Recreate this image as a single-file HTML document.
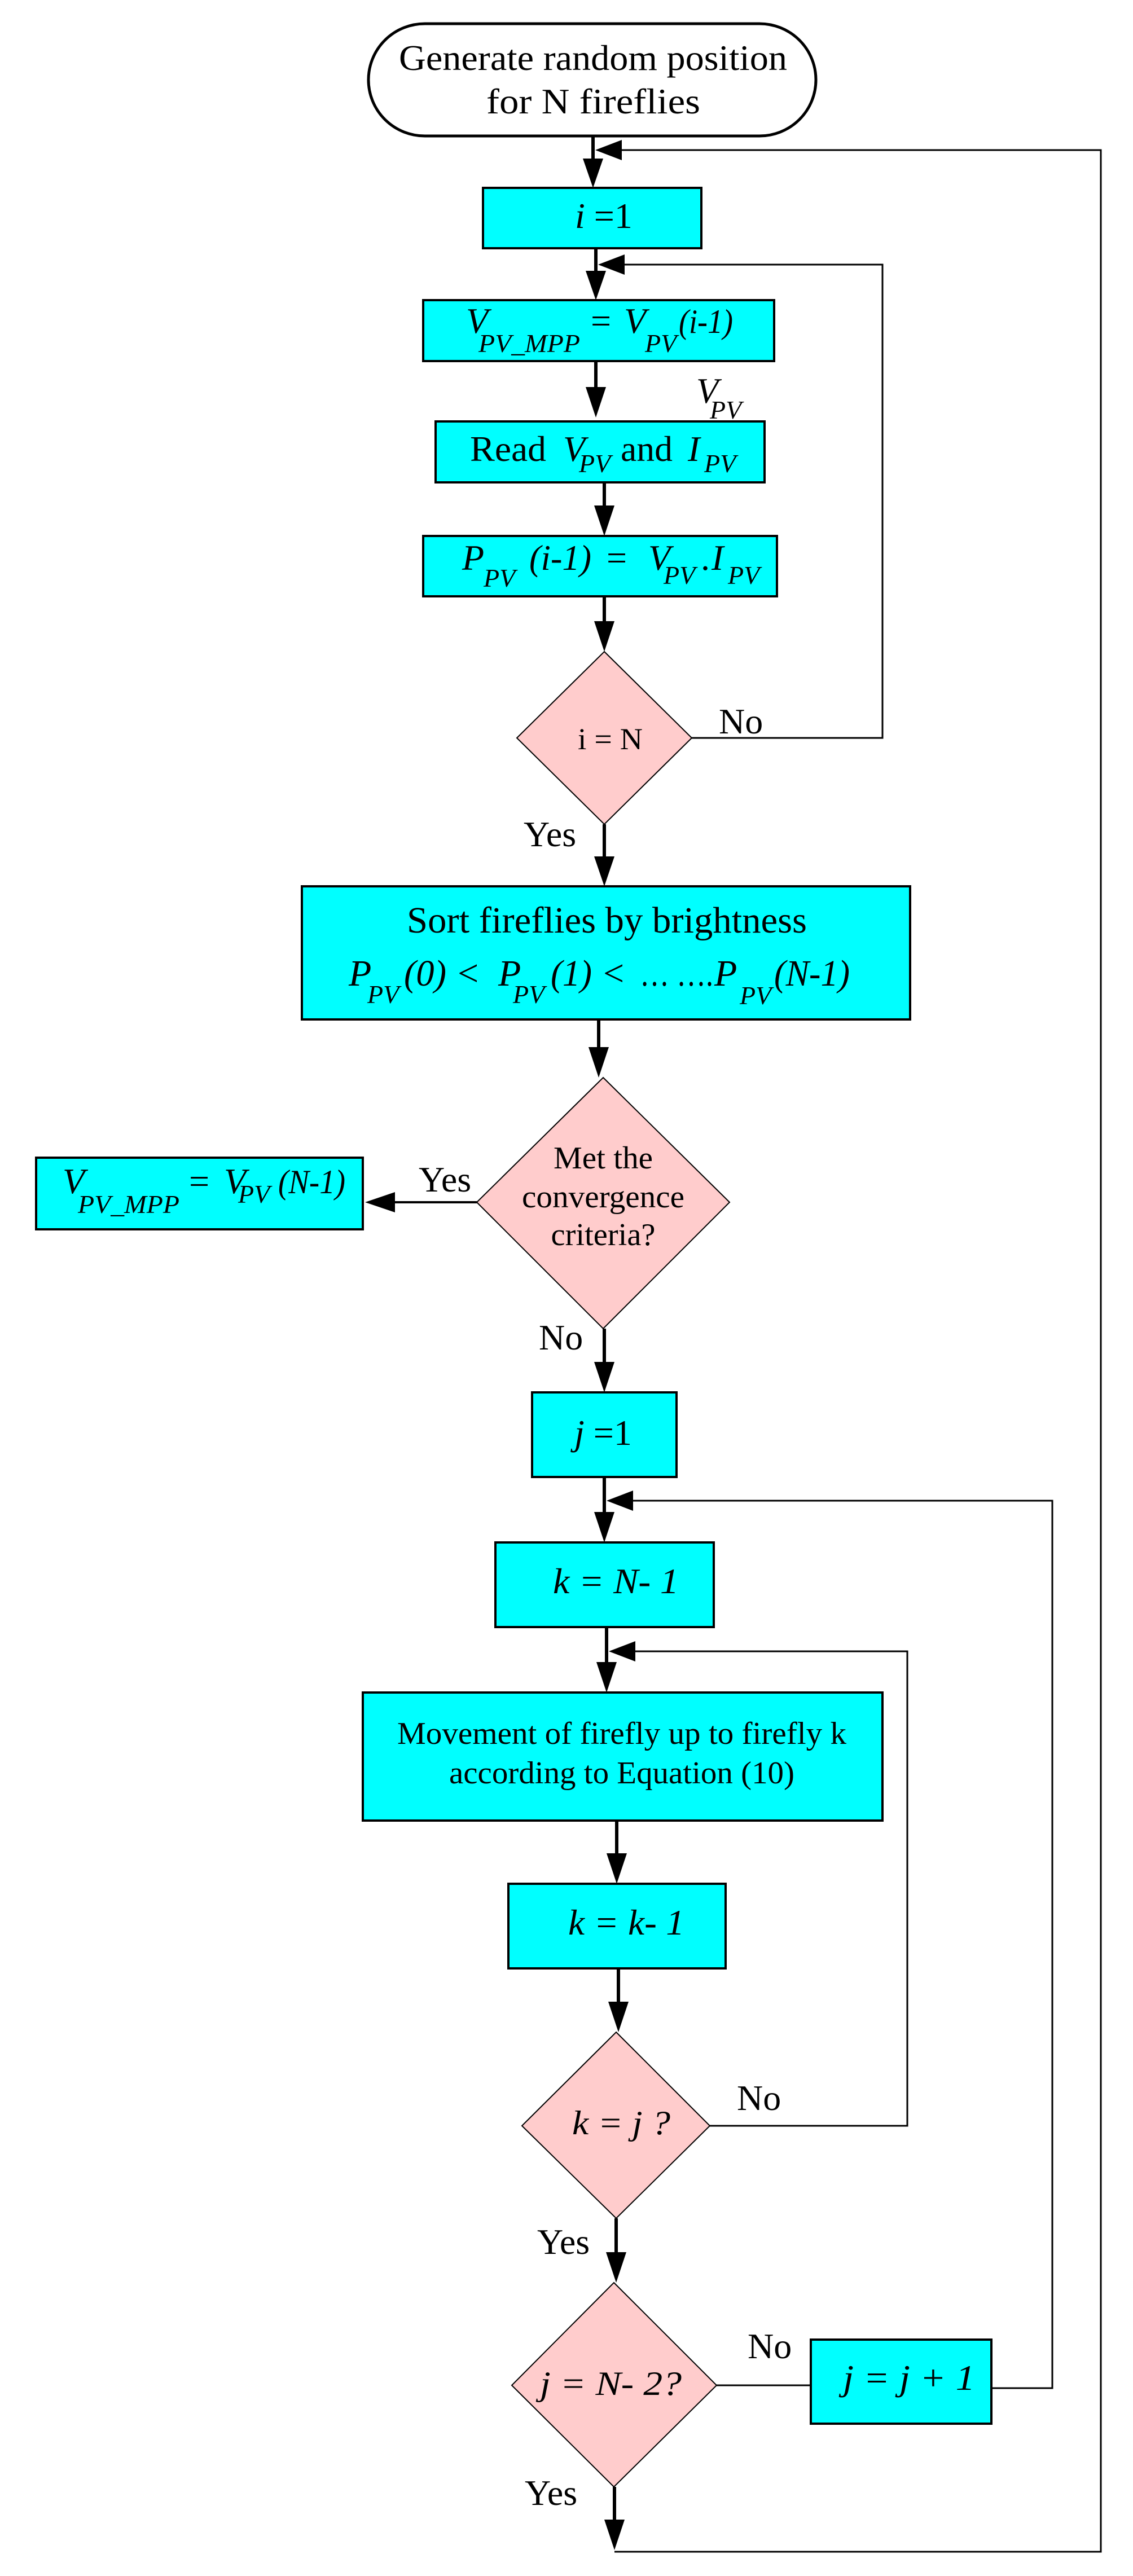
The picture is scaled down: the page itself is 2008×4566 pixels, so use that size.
<!DOCTYPE html>
<html><head><meta charset="utf-8"><style>
html,body{margin:0;padding:0;background:#fff;}
svg{display:block;}
text{font-family:"Liberation Serif","DejaVu Serif",serif;fill:#000;}
.i{font-style:italic;}
</style></head><body>
<svg width="2008" height="4566" viewBox="0 0 2008 4566" xmlns="http://www.w3.org/2000/svg">
<defs>
<style>
.box{fill:#00FFFF;stroke:#000;stroke-width:4;}
.dia{fill:#FFCCCC;stroke:#000;stroke-width:2;}
.ln{stroke:#000;stroke-width:3;fill:none;}
.th{stroke:#000;stroke-width:6;fill:none;}
</style>
</defs>

<!-- Terminal -->
<rect x="653" y="42" width="793" height="199" rx="100" ry="100" fill="#fff" stroke="#000" stroke-width="5"/>
<text x="707" y="124" font-size="64" textLength="688" lengthAdjust="spacingAndGlyphs">Generate random position</text>
<text x="862" y="201" font-size="64" textLength="379" lengthAdjust="spacingAndGlyphs">for  N fireflies</text>

<!-- arrow to i=1 -->
<line class="th" x1="1051" y1="241" x2="1051" y2="285"/>
<polygon points="1033,281 1069,281 1051,333"/>
<!-- outer feedback -->
<polyline class="ln" points="1089,4523 1951,4523 1951,266 1100,266"/>
<polygon points="1055,266 1102,248 1102,284"/>

<rect class="box" x="856" y="333" width="387" height="107"/>
<text x="1019" y="404" font-size="64"><tspan class="i">i</tspan> =1</text>

<line class="th" x1="1056" y1="440" x2="1056" y2="484"/>
<polygon points="1038,480 1074,480 1056,532"/>
<polyline class="ln" points="1226,1308 1564,1308 1564,469 1105,469"/>
<polygon points="1060,469 1107,451 1107,487"/>

<rect class="box" x="750" y="532" width="622" height="108"/>
<text class="i" x="826" y="590" font-size="64">V</text>
<text class="i" x="848" y="624" font-size="46" textLength="180" lengthAdjust="spacingAndGlyphs">PV_MPP</text>
<text x="1047" y="590" font-size="64">=</text>
<text class="i" x="1106" y="590" font-size="64">V</text>
<text class="i" x="1143" y="624" font-size="46">PV</text>
<text class="i" x="1203" y="590" font-size="60" textLength="96" lengthAdjust="spacingAndGlyphs">(i-1)</text>

<line class="th" x1="1056" y1="640" x2="1056" y2="690"/>
<polygon points="1038,686 1074,686 1056,740"/>
<text class="i" x="1234" y="714" font-size="64">V</text>
<text class="i" x="1258" y="742" font-size="46">PV</text>

<rect class="box" x="772" y="747" width="583" height="108"/>
<text x="833" y="817" font-size="64" textLength="135" lengthAdjust="spacingAndGlyphs">Read</text>
<text class="i" x="998" y="817" font-size="64">V</text>
<text class="i" x="1026" y="837" font-size="46">PV</text>
<text x="1100" y="817" font-size="64" textLength="92" lengthAdjust="spacingAndGlyphs">and</text>
<text class="i" x="1219" y="817" font-size="64">I</text>
<text class="i" x="1248" y="837" font-size="46">PV</text>

<line class="th" x1="1071" y1="855" x2="1071" y2="900"/>
<polygon points="1053,896 1089,896 1071,950"/>

<rect class="box" x="750" y="950" width="627" height="107"/>
<text class="i" x="819" y="1010" font-size="64">P</text>
<text class="i" x="857" y="1040" font-size="46">PV</text>
<text class="i" x="938" y="1010" font-size="64" textLength="110" lengthAdjust="spacingAndGlyphs">(i-1)</text>
<text x="1075" y="1010" font-size="64">=</text>
<text class="i" x="1149" y="1010" font-size="64">V</text>
<text class="i" x="1176" y="1035" font-size="46">PV</text>
<text x="1242" y="1010" font-size="64">.</text>
<text class="i" x="1261" y="1010" font-size="64">I</text>
<text class="i" x="1290" y="1035" font-size="46">PV</text>

<line class="th" x1="1071" y1="1057" x2="1071" y2="1105"/>
<polygon points="1053,1101 1089,1101 1071,1155"/>

<polygon class="dia" points="1071,1155 1226,1308 1071,1461 916,1308"/>
<text x="1024" y="1328" font-size="54" textLength="115" lengthAdjust="spacingAndGlyphs">i = N</text>
<text x="1274" y="1300" font-size="64">No</text>
<text x="928" y="1500" font-size="64">Yes</text>

<line class="th" x1="1071" y1="1461" x2="1071" y2="1522"/>
<polygon points="1053,1518 1089,1518 1071,1571"/>

<rect class="box" x="535" y="1571" width="1078" height="236"/>
<text x="721" y="1653" font-size="66" textLength="709" lengthAdjust="spacingAndGlyphs">Sort fireflies by brightness</text>
<text class="i" x="618" y="1747" font-size="66">P</text>
<text class="i" x="651" y="1778" font-size="46">PV</text>
<text class="i" x="716" y="1747" font-size="66" textLength="75" lengthAdjust="spacingAndGlyphs">(0)</text>
<text x="811" y="1747" font-size="66">&lt;</text>
<text class="i" x="883" y="1747" font-size="66">P</text>
<text class="i" x="909" y="1778" font-size="46">PV</text>
<text class="i" x="976" y="1747" font-size="66" textLength="73" lengthAdjust="spacingAndGlyphs">(1)</text>
<text x="1069" y="1747" font-size="66">&lt;</text>
<text x="1134" y="1747" font-size="66" textLength="130" lengthAdjust="spacingAndGlyphs">… ….</text>
<text class="i" x="1266" y="1747" font-size="66">P</text>
<text class="i" x="1311" y="1780" font-size="46">PV</text>
<text class="i" x="1372" y="1747" font-size="66" textLength="134" lengthAdjust="spacingAndGlyphs">(N-1)</text>

<line class="th" x1="1061" y1="1807" x2="1061" y2="1860"/>
<polygon points="1043,1856 1079,1856 1061,1910"/>

<polygon class="dia" points="1069,1910 1293,2131 1069,2355 845,2131"/>
<text x="1069" y="2071" font-size="56" text-anchor="middle" textLength="176" lengthAdjust="spacingAndGlyphs">Met the</text>
<text x="1069" y="2140" font-size="56" text-anchor="middle" textLength="288" lengthAdjust="spacingAndGlyphs">convergence</text>
<text x="1069" y="2207" font-size="56" text-anchor="middle" textLength="185" lengthAdjust="spacingAndGlyphs">criteria?</text>

<line class="th" x1="845" y1="2131" x2="690" y2="2131" style="stroke-width:4"/>
<polygon points="647,2131 700,2113 700,2149"/>
<text x="742" y="2112" font-size="64">Yes</text>

<rect class="box" x="64" y="2052" width="579" height="127"/>
<text class="i" x="111" y="2115" font-size="64">V</text>
<text class="i" x="138" y="2150" font-size="46" textLength="180" lengthAdjust="spacingAndGlyphs">PV_MPP</text>
<text x="335" y="2115" font-size="64">=</text>
<text class="i" x="397" y="2115" font-size="64">V</text>
<text class="i" x="422" y="2132" font-size="46">PV</text>
<text class="i" x="493" y="2115" font-size="60" textLength="119" lengthAdjust="spacingAndGlyphs">(N-1)</text>

<text x="955" y="2392" font-size="64">No</text>
<line class="th" x1="1071" y1="2355" x2="1071" y2="2418"/>
<polygon points="1053,2414 1089,2414 1071,2468"/>

<rect class="box" x="943" y="2468" width="256" height="150"/>
<text x="1018" y="2561" font-size="64"><tspan class="i">j</tspan> =1</text>

<line class="th" x1="1071" y1="2618" x2="1071" y2="2684"/>
<polygon points="1053,2680 1089,2680 1071,2734"/>
<polyline class="ln" points="1757,4233 1865,4233 1865,2660 1120,2660"/>
<polygon points="1075,2660 1122,2642 1122,2678"/>

<rect class="box" x="878" y="2734" width="387" height="150"/>
<text class="i" x="980" y="2824" font-size="64" textLength="223" lengthAdjust="spacingAndGlyphs">k = N- 1</text>

<line class="th" x1="1075" y1="2884" x2="1075" y2="2950"/>
<polygon points="1057,2946 1093,2946 1075,3000"/>
<polyline class="ln" points="1258,3768 1608,3768 1608,2927 1124,2927"/>
<polygon points="1079,2927 1126,2909 1126,2945"/>

<rect class="box" x="643" y="3000" width="921" height="227"/>
<text x="704" y="3091" font-size="56" textLength="796" lengthAdjust="spacingAndGlyphs">Movement of firefly up to firefly k</text>
<text x="796" y="3161" font-size="56" textLength="612" lengthAdjust="spacingAndGlyphs">according to Equation (10)</text>

<line class="th" x1="1093" y1="3227" x2="1093" y2="3289"/>
<polygon points="1075,3285 1111,3285 1093,3339"/>

<rect class="box" x="901" y="3339" width="385" height="150"/>
<text class="i" x="1007" y="3429" font-size="64" textLength="206" lengthAdjust="spacingAndGlyphs">k = k- 1</text>

<line class="th" x1="1096" y1="3489" x2="1096" y2="3552"/>
<polygon points="1078,3548 1114,3548 1096,3602"/>

<polygon class="dia" points="1092,3602 1258,3768 1092,3932 925,3768"/>
<text class="i" x="1014" y="3783" font-size="60" textLength="174" lengthAdjust="spacingAndGlyphs">k = j ?</text>
<text x="1306" y="3740" font-size="64">No</text>
<text x="952" y="3995" font-size="64">Yes</text>

<line class="th" x1="1092" y1="3932" x2="1092" y2="3996"/>
<polygon points="1074,3992 1110,3992 1092,4046"/>

<polygon class="dia" points="1088,4046 1270,4228 1088,4408 907,4228"/>
<text class="i" x="957" y="4245" font-size="60" textLength="251" lengthAdjust="spacingAndGlyphs">j = N- 2?</text>
<line class="ln" x1="1270" y1="4228" x2="1437" y2="4228"/>
<text x="1325" y="4180" font-size="64">No</text>

<rect class="box" x="1437" y="4147" width="320" height="149"/>
<text class="i" x="1494" y="4236" font-size="64" textLength="234" lengthAdjust="spacingAndGlyphs">j = j + 1</text>

<text x="930" y="4440" font-size="64">Yes</text>
<line class="th" x1="1089" y1="4408" x2="1089" y2="4470"/>
<polygon points="1071,4466 1107,4466 1089,4520"/>
</svg>
</body></html>
